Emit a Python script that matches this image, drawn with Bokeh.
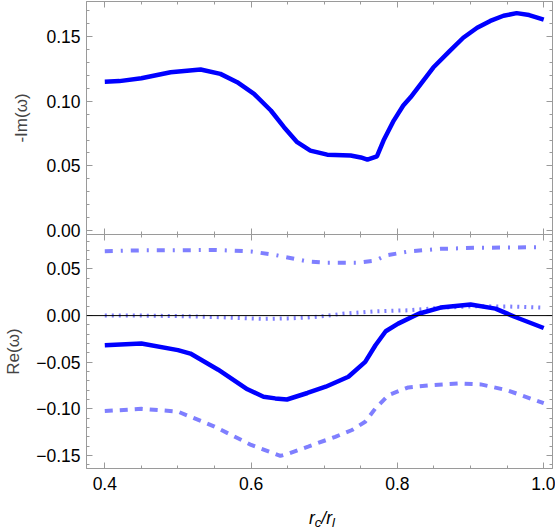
from bokeh.plotting import figure
from bokeh.layouts import column
from bokeh.models import (LinearAxis, FixedTicker, CustomJSTickFormatter, Range1d, Span, Div)
from bokeh.embed import file_html
from bokeh.resources import INLINE

# ---- data ----
im_x = [0.40, 0.42, 0.45, 0.49, 0.531, 0.558, 0.581, 0.604, 0.627, 0.645, 0.663, 0.681, 0.704,
        0.736, 0.750, 0.759, 0.772, 0.781, 0.795, 0.808, 0.818, 0.849, 0.872, 0.890, 0.909, 0.927,
        0.945, 0.963, 0.980, 1.00]
im_y = [0.115, 0.1155, 0.1177, 0.1224, 0.1245, 0.1211, 0.1147, 0.1057, 0.0928, 0.0799, 0.0683,
        0.0618, 0.0587, 0.058, 0.0565, 0.0548, 0.0574, 0.0696, 0.085, 0.0966, 0.103, 0.126, 0.139,
        0.149, 0.1567, 0.162, 0.166, 0.168, 0.1665, 0.163]

re1_x = [0.40, 0.45, 0.50, 0.517, 0.555, 0.595, 0.617, 0.633, 0.649, 0.677, 0.702, 0.733, 0.756,
         0.770, 0.784, 0.801, 0.829, 0.859, 0.900, 0.934, 0.961, 1.00]
re1_y = [-0.0318, -0.030, -0.037, -0.0407, -0.058, -0.079, -0.087, -0.0888, -0.0900, -0.083, -0.0763,
         -0.0656, -0.0496, -0.0318, -0.0168, -0.0086, 0.002, 0.0086, 0.012, 0.0075, -0.0015, -0.0133]

re2_x = [0.40, 0.45, 0.50, 0.55, 0.60, 0.64, 0.651, 0.678, 0.715, 0.738, 0.756, 0.770, 0.788,
         0.815, 0.847, 0.884, 0.914, 0.950, 1.00]
re2_y = [-0.1024, -0.100, -0.103, -0.119, -0.1387, -0.1505, -0.148, -0.1405, -0.130, -0.1227, -0.1138,
         -0.0995, -0.0852, -0.077, -0.0745, -0.0727, -0.0738, -0.080, -0.094]

re3_x = [0.40, 0.45, 0.50, 0.55, 0.60, 0.633, 0.678, 0.702, 0.745, 0.770, 0.784, 0.815, 0.859, 0.905, 1.00]
re3_y = [0.069, 0.070, 0.070, 0.0705, 0.0688, 0.065, 0.058, 0.0567, 0.0567, 0.059, 0.0645, 0.0688,
         0.0716, 0.0727, 0.0734]

re4_x = [0.40, 0.45, 0.50, 0.55, 0.60, 0.62, 0.65, 0.678, 0.70, 0.725, 0.77, 0.815, 0.86, 0.905, 0.95, 1.00]
re4_y = [0.000, 0.000, -0.0005, -0.0015, -0.003, -0.0035, -0.003, -0.002, -0.0005, 0.002, 0.0046,
         0.0057, 0.0085, 0.010, 0.0098, 0.0085]

x_major = [0.4, 0.6, 0.8, 1.0]
x_minor = [0.4, 0.45, 0.5, 0.55, 0.6, 0.65, 0.7, 0.75, 0.8, 0.85, 0.9, 0.95, 1.0]
top_major = [0.0, 0.05, 0.10, 0.15]
top_minor = [0.0, 0.01, 0.02, 0.03, 0.04, 0.05, 0.06, 0.07, 0.08, 0.09, 0.10, 0.11, 0.12,
             0.13, 0.14, 0.15, 0.16, 0.17]
bot_major = [-0.15, -0.10, -0.05, 0.0, 0.05]
bot_minor = [-0.16, -0.15, -0.14, -0.13, -0.12, -0.11, -0.10, -0.09, -0.08, -0.07, -0.06, -0.05,
             -0.04, -0.03, -0.02, -0.01, 0.0, 0.01, 0.02, 0.03, 0.04, 0.05, 0.06, 0.07, 0.08]

FONT = "Liberation Sans"
FRAME_COL = "#9a9a9a"
BLUE = "#0000ff"
LIGHT = "#7f7fff"
TICK_FS = "17.5px"

fmt2 = CustomJSTickFormatter(code="return (tick < -1e-9 ? '\\u2212' : '') + Math.abs(tick).toFixed(2);")
fmt1 = CustomJSTickFormatter(code="return Math.abs(tick).toFixed(1);")


def style_axis(ax, major, minor, labels=True, fmt=None):
    ax.ticker = FixedTicker(ticks=major, minor_ticks=minor)
    ax.axis_line_color = FRAME_COL
    ax.major_tick_line_color = FRAME_COL
    ax.minor_tick_line_color = FRAME_COL
    ax.major_tick_out = 0
    ax.major_tick_in = 6
    ax.minor_tick_out = 0
    ax.minor_tick_in = 3
    if labels:
        ax.formatter = fmt
        ax.major_label_text_font = FONT
        ax.major_label_text_font_size = TICK_FS
        ax.major_label_text_color = "black"
        ax.major_label_standoff = 6
    else:
        ax.formatter = CustomJSTickFormatter(code="return '';")
        ax.major_label_text_font_size = "0px"
        ax.major_label_standoff = 0
        ax.axis_label = None


def make_fig(yr, fh, top, bottom):
    p = figure(frame_width=466, frame_height=fh, x_range=Range1d(0.375, 1.012), y_range=yr,
               output_backend="svg", toolbar_location=None,
               x_axis_location=None, y_axis_location=None,
               min_border_left=86, min_border_right=3, min_border_top=top, min_border_bottom=bottom)
    p.outline_line_color = FRAME_COL
    p.background_fill_color = "white"
    p.border_fill_color = "white"
    return p


# ---- top panel ----
pt = make_fig(Range1d(-0.003, 0.177), 233, 1, 10)
yl = LinearAxis(axis_label="-Im(\u03c9)")
style_axis(yl, top_major, top_minor, True, fmt2)
yl.axis_label_text_font = FONT
yl.axis_label_text_font_size = "17px"
yl.axis_label_text_font_style = "normal"
yl.axis_label_standoff = 12
pt.add_layout(yl, "left")
a = LinearAxis()
style_axis(a, top_major, top_minor, False)
pt.add_layout(a, "right")
for loc in ["above", "below"]:
    a = LinearAxis()
    style_axis(a, x_major, x_minor, False)
    pt.add_layout(a, loc)
pt.line(im_x, im_y, line_color=BLUE, line_width=4.5)
pt.grid.grid_line_color = None

# ---- bottom panel ----
pb = make_fig(Range1d(-0.164, 0.087), 234, 4, 30)
pb.border_fill_alpha = 0
pb.styles = {"margin-top": "-14px"}
pb.add_layout(Span(location=0, dimension="width", line_color="black", line_width=1))
yl2 = LinearAxis(axis_label="Re(\u03c9)")
style_axis(yl2, bot_major, bot_minor, True, fmt2)
yl2.axis_label_text_font = FONT
yl2.axis_label_text_font_size = "17px"
yl2.axis_label_text_font_style = "normal"
yl2.axis_label_standoff = 10
pb.add_layout(yl2, "left")
a = LinearAxis()
style_axis(a, bot_major, bot_minor, False)
pb.add_layout(a, "right")
a = LinearAxis()
style_axis(a, x_major, x_minor, False)
pb.add_layout(a, "above")
xb = LinearAxis()
style_axis(xb, x_major, x_minor, True, fmt1)
xb.major_label_standoff = 8
pb.add_layout(xb, "below")
pb.grid.grid_line_color = None

pb.line(re3_x, re3_y, line_color=LIGHT, line_width=4, line_dash="8 8 2 8")
pb.line(re4_x, re4_y, line_color=LIGHT, line_width=4, line_dash="2 5")
pb.line(re2_x, re2_y, line_color=LIGHT, line_width=4, line_dash="8 7")
pb.line(re1_x, re1_y, line_color=BLUE, line_width=4.5)

# x-axis label r_c / r_l
xlabel = Div(
    text=('<span style="font-style:italic">r</span>'
          '<span style="font-style:italic;font-size:13px;position:relative;top:3px">c</span>'
          '<span style="font-style:italic">/r</span>'
          '<span style="font-style:italic;font-size:13px;position:relative;top:3px">l</span>'),
    width=555, height=32,
    styles={"font-family": FONT, "font-size": "17.5px", "color": "black", "line-height": "20px",
            "padding-left": "304px", "padding-top": "5px", "box-sizing": "border-box",
            "overflow": "visible"})

layout = column(pt, pb, xlabel, spacing=0)
open("out.html", "w").write(file_html(layout, INLINE))
